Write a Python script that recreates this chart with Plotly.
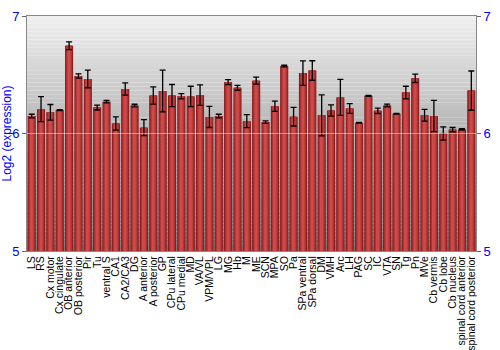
import plotly.graph_objects as go

regions = ["LS", "RS", "Cx motor", "Cx cingulate", "OB anterior", "OB posterior", "Pir", "Tu",
           "ventral S", "CA1", "CA2/CA3", "DG", "A anterior", "A posterior", "GP", "CPu lateral",
           "CPu medial", "MD", "VA/VL", "VPM/VPL", "LG", "MG", "Hb", "M", "ME", "SCN", "MPA", "SO",
           "Pa", "SPa ventral", "SPa dorsal", "DM", "VMH", "Arc", "LH", "PAG", "SC", "IC", "VTA",
           "SN", "Tg", "Pn", "MVe", "Cb vermis", "Cb lobe", "Cb nucleus", "spinal cord anterior",
           "spinal cord posterior"]

expression = [6.149, 6.207, 6.180, 6.199, 6.746, 6.489, 6.464, 6.221,
              6.271, 6.085, 6.379, 6.238, 6.050, 6.323, 6.362, 6.323,
              6.317, 6.315, 6.326, 6.141, 6.149, 6.437, 6.389, 6.105, 6.450, 6.097, 6.232, 6.574,
              6.143, 6.514, 6.536, 6.155, 6.196, 6.307, 6.213, 6.091, 6.321, 6.193, 6.238,
              6.168, 6.348, 6.470, 6.155, 6.149, 6.000, 6.033, 6.036,
              6.365]

errors = [0.015, 0.106, 0.067, 0.005, 0.033, 0.018, 0.075, 0.021,
          0.011, 0.057, 0.052, 0.011, 0.068, 0.073, 0.178, 0.094,
          0.022, 0.087, 0.087, 0.090, 0.015, 0.021, 0.021, 0.055, 0.030, 0.010, 0.043, 0.007,
          0.079, 0.104, 0.083, 0.174, 0.048, 0.153, 0.041, 0.003, 0.004, 0.023, 0.012,
          0.003, 0.054, 0.036, 0.050, 0.133, 0.057, 0.018, 0.006,
          0.167]

y_ticks = [5, 6, 7]

fig = go.Figure()

# cylinder-like shading via overlaid bars of decreasing width
layers = [(0.86, "#7e1818"), (0.76, "#962424"), (0.64, "#aa2e2e"), (0.5, "#b93838"),
          (0.36, "#c44242"), (0.2, "#cc4a4a")]
for i, (w, c) in enumerate(layers):
    last = i == len(layers) - 1
    fig.add_trace(go.Bar(
        x=regions, y=expression, width=w,
        marker=dict(color=c, line=dict(width=0)),
        error_y=dict(type="data", array=errors, visible=True, color="black",
                     thickness=1.3, width=3) if last else None,
        hoverinfo="skip" if not last else None,
        showlegend=False,
    ))

# gradient background
shapes = []
n = 60
top = (242, 242, 242)
bot = (120, 120, 120)
for k in range(n):
    f = k / n
    r = int(bot[0] + (top[0] - bot[0]) * f)
    shapes.append(dict(type="rect", xref="x domain", yref="y domain",
                       x0=0, x1=1, y0=k / n, y1=(k + 1) / n,
                       fillcolor=f"rgb({r},{r},{r})", line=dict(width=0), layer="below"))
shapes.append(dict(type="line", xref="x domain", yref="y", x0=0, x1=1, y0=6, y1=6,
                   line=dict(color="rgba(255,255,255,0.45)", width=1), layer="above"))
fig.update_layout(shapes=shapes)

fig.update_layout(
    width=500, height=350,
    margin=dict(l=27, r=14, t=9, b=99),
    barmode="overlay",
    plot_bgcolor="rgba(0,0,0,0)",
    paper_bgcolor="white",
    font=dict(family="Liberation Sans, Arial, sans-serif", size=10, color="black"),
    xaxis=dict(tickangle=-90, tickmode="array", tickvals=regions, ticktext=regions,
               tickfont=dict(size=10.5, color="black"), showgrid=False,
               showline=True, linecolor="#888", mirror=True, ticks="", automargin=False),
    yaxis=dict(range=[5, 7], tickvals=y_ticks, ticktext=[str(v) for v in y_ticks],
               tickfont=dict(size=13, color="blue"), showgrid=False, zeroline=False,
               showline=True, linecolor="#888", mirror="allticks", ticks="outside",
               ticklen=4, tickcolor="#666",
               title=dict(text="Log2 (expression)", font=dict(size=12, color="blue"), standoff=4),
               automargin=False),
    yaxis2=dict(range=[5, 7], tickvals=y_ticks, overlaying="y", side="right",
                tickfont=dict(size=13, color="blue"), showgrid=False, zeroline=False,
                ticks="outside", ticklen=4, tickcolor="#666", showline=False),
)
fig.add_trace(go.Scatter(x=[None], y=[None], yaxis="y2", showlegend=False))

fig.write_html("out.html")
